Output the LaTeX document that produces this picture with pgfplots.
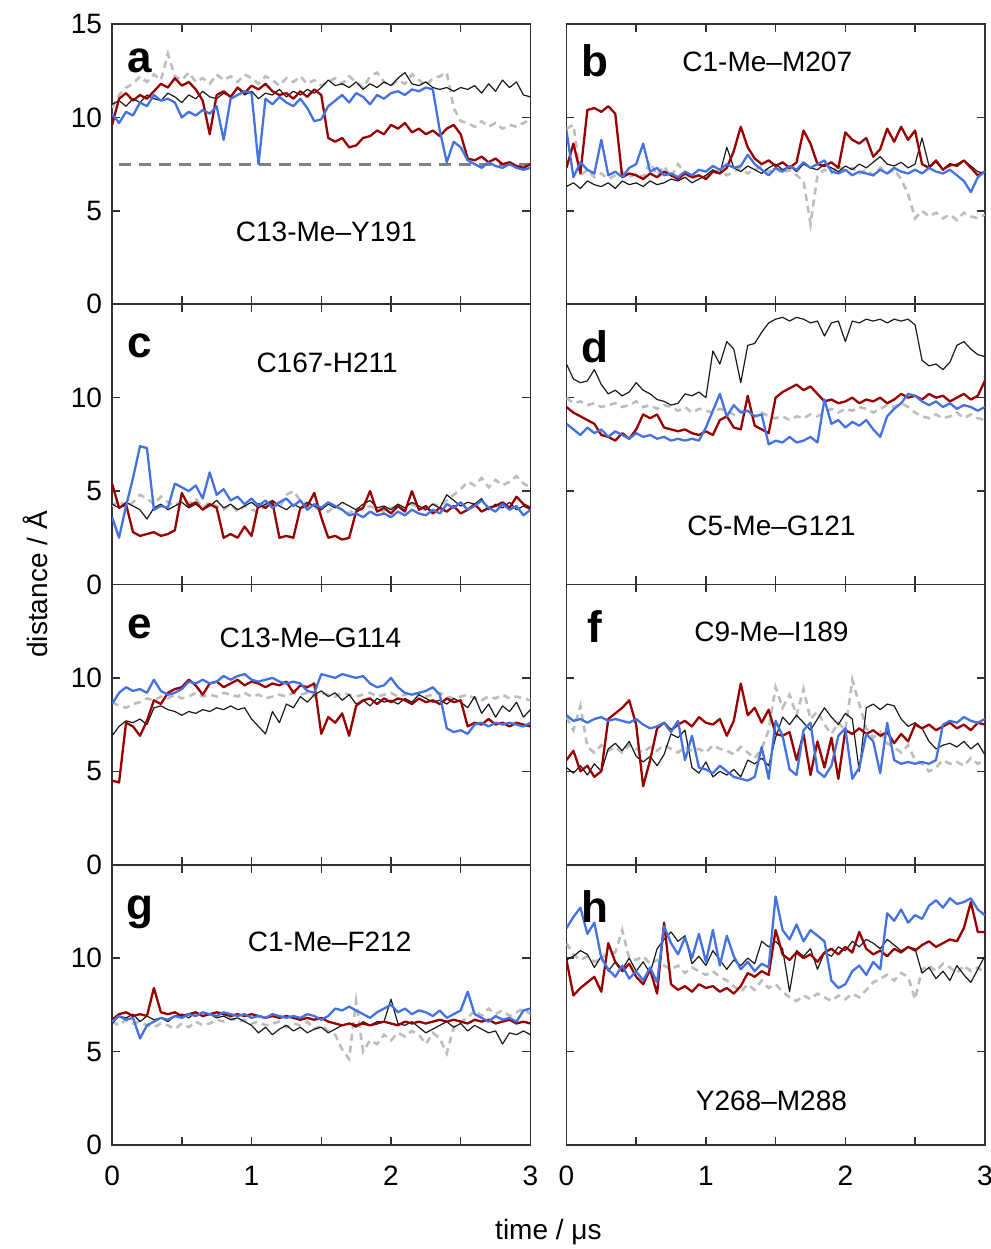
\documentclass[border=0pt]{standalone}
\usepackage{fontspec}
\setmainfont{Liberation Sans}
\usepackage{pgfplots}
\usepackage{pgfplotstable}
\pgfplotsset{compat=1.18}
\usepgfplotslibrary{groupplots}
\usetikzlibrary{calc}

\definecolor{cK}{HTML}{1A1A1A}
\definecolor{cR}{HTML}{990000}
\definecolor{cB}{HTML}{4472E0}
\definecolor{cG}{HTML}{BDBDBD}
\definecolor{cF}{HTML}{333333}

% columns: t = time (us), k = black, r = red, b = blue, g = grey dashed
\pgfplotstableread{
t k r b g
0.00 10.7 9.6 10.2 10.5
0.05 10.9 11.0 9.7 11.2
0.10 10.6 11.3 10.3 11.6
0.15 11.0 10.9 10.1 11.8
0.20 10.8 11.2 10.8 12.2
0.25 11.2 11.0 10.6 11.9
0.30 11.0 11.4 11.2 12.3
0.35 10.9 11.8 10.9 12.0
0.40 11.3 11.6 11.0 13.4
0.45 11.1 12.1 10.8 12.2
0.50 10.8 11.7 10.0 12.0
0.55 11.2 11.9 10.3 12.4
0.60 11.0 11.5 10.1 11.9
0.65 11.4 10.9 10.4 12.1
0.70 11.1 9.1 10.2 11.8
0.75 11.0 11.2 10.6 12.3
0.80 11.3 11.4 8.8 12.0
0.85 11.1 11.1 11.0 12.2
0.90 11.6 11.6 11.2 11.9
0.95 11.2 11.3 11.4 12.3
1.00 11.4 11.7 11.3 12.1
1.05 11.0 11.5 7.5 11.8
1.10 11.3 11.8 11.0 12.2
1.15 11.2 11.4 10.7 12.0
1.20 11.5 11.2 11.1 11.7
1.25 11.1 11.3 10.8 12.1
1.30 11.4 11.0 10.6 11.9
1.35 11.2 11.4 11.0 12.2
1.40 11.5 11.1 10.5 11.8
1.45 11.3 11.5 9.8 12.0
1.50 11.6 11.2 9.9 11.7
1.55 12.0 8.9 10.6 11.9
1.60 11.7 8.7 10.9 12.1
1.65 11.8 8.9 11.2 11.8
1.70 11.6 8.4 10.8 12.2
1.75 11.9 8.5 11.3 11.9
1.80 11.5 8.9 11.1 11.6
1.85 11.8 9.0 10.7 12.2
1.90 11.6 9.3 11.2 12.4
1.95 11.9 9.1 11.0 11.9
2.00 11.7 9.6 11.3 11.7
2.05 12.1 9.4 11.4 12.0
2.10 12.4 9.7 11.2 11.8
2.15 11.8 9.2 11.5 12.3
2.20 11.7 9.4 11.4 12.0
2.25 11.9 9.1 11.6 11.7
2.30 11.6 9.3 11.5 12.1
2.35 11.5 9.0 9.3 12.2
2.40 11.6 9.4 7.6 12.4
2.45 11.4 9.6 8.7 10.5
2.50 11.6 9.1 8.4 9.8
2.55 11.5 7.8 7.7 9.7
2.60 11.7 7.7 7.5 9.5
2.65 11.3 7.9 7.3 9.8
2.70 11.8 7.6 7.6 9.5
2.75 11.4 7.8 7.4 9.7
2.80 12.0 7.5 7.3 9.4
2.85 11.6 7.6 7.5 9.6
2.90 11.9 7.4 7.3 9.5
2.95 11.2 7.3 7.2 9.7
3.00 11.1 7.5 7.3 9.9
}\tabA

\pgfplotstableread{
t k r b g
0.00 6.3 7.3 9.3 9.4
0.05 6.5 8.6 6.8 9.6
0.10 6.2 7.0 7.6 6.9
0.15 6.6 10.4 7.2 7.2
0.20 6.4 10.5 7.0 6.8
0.25 6.3 10.3 8.8 7.0
0.30 6.5 10.6 6.9 6.7
0.35 6.2 10.2 7.1 6.9
0.40 6.6 6.8 6.8 7.1
0.45 6.4 7.0 7.3 6.8
0.50 6.5 6.9 7.5 7.0
0.55 6.3 6.7 8.6 6.8
0.60 6.6 7.0 7.1 7.6
0.65 6.4 6.8 7.3 6.9
0.70 6.5 7.1 6.9 7.4
0.75 6.7 6.9 7.0 6.8
0.80 6.6 6.7 6.8 7.5
0.85 6.8 7.0 7.1 7.0
0.90 6.5 6.8 6.9 6.7
0.95 6.7 6.9 7.2 6.9
1.00 6.9 6.7 7.1 6.8
1.05 7.2 7.1 7.4 7.0
1.10 7.0 7.0 7.2 7.2
1.15 8.4 7.3 7.5 6.9
1.20 7.3 8.2 7.3 7.1
1.25 7.1 9.5 7.4 7.3
1.30 7.4 8.4 8.0 7.0
1.35 7.2 7.8 7.5 7.2
1.40 7.0 7.5 7.2 7.4
1.45 7.3 7.7 6.9 7.1
1.50 7.5 7.4 7.3 7.3
1.55 7.2 7.6 7.1 7.0
1.60 7.4 7.3 7.4 7.2
1.65 7.1 7.6 7.2 6.9
1.70 7.5 9.3 7.6 6.6
1.75 7.3 8.6 7.3 4.3
1.80 7.2 7.5 7.5 6.9
1.85 7.5 7.4 7.7 7.2
1.90 7.3 7.6 7.1 7.0
1.95 7.1 7.3 7.0 7.4
2.00 7.4 9.2 7.2 7.1
2.05 7.2 8.8 6.9 7.3
2.10 7.5 8.6 7.1 7.0
2.15 7.3 8.9 7.0 7.2
2.20 7.6 7.9 6.9 6.9
2.25 7.9 8.3 7.2 7.3
2.30 7.5 9.4 7.0 7.0
2.35 7.4 8.7 7.3 7.2
2.40 7.6 9.5 7.1 6.7
2.45 7.3 8.8 7.0 5.9
2.50 7.5 9.3 7.2 4.6
2.55 8.9 7.5 7.0 5.0
2.60 7.4 7.3 7.3 4.7
2.65 7.6 7.7 7.1 4.9
2.70 7.2 7.2 7.0 4.6
2.75 7.4 7.5 7.2 4.8
2.80 7.5 7.4 6.9 4.5
2.85 7.7 7.7 6.6 4.9
2.90 7.4 7.3 6.0 4.7
2.95 7.1 6.9 6.8 4.6
3.00 7.0 7.1 7.1 4.8
}\tabB

\pgfplotstableread{
t k r b g
0.00 4.3 5.4 3.6 4.2
0.05 4.1 4.1 2.5 4.5
0.10 4.4 4.3 4.2 4.1
0.15 4.2 2.8 5.7 4.4
0.20 4.0 2.6 7.4 4.8
0.25 3.5 2.7 7.3 4.6
0.30 4.1 2.8 4.0 4.3
0.35 4.3 2.6 4.2 4.7
0.40 4.0 2.7 4.1 4.4
0.45 4.2 2.9 5.4 4.2
0.50 4.4 4.9 5.2 4.5
0.55 4.1 4.2 5.0 4.3
0.60 4.3 4.4 5.3 4.6
0.65 4.0 4.0 4.6 4.1
0.70 4.2 4.3 6.0 4.4
0.75 4.5 4.1 4.8 4.2
0.80 4.1 2.5 5.1 4.0
0.85 4.3 2.7 4.5 4.3
0.90 4.0 2.5 4.7 3.9
0.95 4.2 3.1 4.3 4.2
1.00 4.4 2.6 4.6 4.0
1.05 4.1 4.3 4.2 3.9
1.10 4.3 4.1 4.5 4.2
1.15 4.5 4.4 4.1 4.4
1.20 4.2 2.5 4.4 4.1
1.25 4.0 2.6 4.6 4.8
1.30 4.3 2.5 4.2 5.0
1.35 4.1 4.1 4.5 4.5
1.40 4.4 4.2 4.0 4.3
1.45 4.2 4.9 4.3 4.1
1.50 4.0 3.6 4.1 4.0
1.55 4.3 2.5 4.4 3.9
1.60 4.1 2.6 4.2 4.2
1.65 4.4 2.4 4.0 4.0
1.70 4.2 2.5 3.7 3.8
1.75 4.0 3.9 3.8 4.1
1.80 4.3 4.1 3.6 4.0
1.85 4.5 5.0 3.9 4.2
1.90 4.1 3.9 3.7 4.0
1.95 4.2 4.1 3.8 3.9
2.00 4.0 3.8 3.6 4.1
2.05 4.3 4.2 3.9 4.2
2.10 4.1 3.9 3.7 4.0
2.15 4.4 5.0 4.0 4.3
2.20 4.2 4.0 3.8 4.1
2.25 4.0 4.2 3.7 4.0
2.30 4.3 3.8 4.0 4.3
2.35 4.1 4.1 3.8 4.2
2.40 4.8 3.9 4.3 4.5
2.45 4.5 4.2 4.1 4.8
2.50 4.2 3.8 4.4 5.1
2.55 4.4 4.0 4.0 5.5
2.60 4.3 4.3 4.2 5.3
2.65 4.6 3.9 4.5 5.7
2.70 4.0 4.1 4.1 5.2
2.75 4.3 4.2 3.9 5.6
2.80 4.1 4.4 4.3 5.3
2.85 4.4 4.1 4.0 5.5
2.90 4.0 4.7 4.2 5.8
2.95 4.2 4.3 3.7 5.4
3.00 4.0 4.1 4.0 5.2
}\tabC

\pgfplotstableread{
t k r b g
0.00 11.8 9.5 8.6 10.0
0.05 11.0 9.2 8.3 9.7
0.10 10.8 9.0 8.0 9.8
0.15 10.9 8.8 8.4 9.6
0.20 11.5 8.6 8.1 9.7
0.25 10.7 8.0 8.3 9.5
0.30 10.2 7.9 7.9 9.6
0.35 10.4 7.7 8.2 9.7
0.40 10.1 8.1 8.0 9.5
0.45 10.3 7.8 7.8 9.6
0.50 10.8 8.3 8.1 9.8
0.55 10.4 9.1 7.9 9.5
0.60 10.2 8.9 8.0 9.6
0.65 9.9 9.1 7.8 9.4
0.70 9.8 8.4 7.9 9.6
0.75 9.6 8.3 7.7 9.5
0.80 9.7 8.2 7.8 9.3
0.85 10.2 8.3 7.7 9.5
0.90 10.1 8.1 7.8 9.2
0.95 10.3 8.0 7.7 9.4
1.00 10.0 8.2 8.4 9.3
1.05 12.5 8.0 9.3 9.2
1.10 11.8 8.8 10.2 9.4
1.15 13.0 9.0 9.0 9.3
1.20 12.6 8.4 9.6 9.1
1.25 10.8 8.3 9.2 9.3
1.30 12.8 10.1 9.3 9.2
1.35 12.9 8.5 9.0 9.0
1.40 13.5 8.3 9.1 9.2
1.45 14.0 8.1 7.5 9.0
1.50 14.2 10.0 7.7 8.9
1.55 14.3 10.3 7.6 9.0
1.60 14.1 10.5 7.9 8.8
1.65 14.3 10.7 7.6 9.0
1.70 14.2 10.4 7.7 8.9
1.75 14.0 10.6 7.9 9.1
1.80 14.1 10.2 7.6 9.0
1.85 13.3 9.8 9.9 9.2
1.90 14.0 9.9 8.6 9.4
1.95 14.1 9.7 8.8 9.2
2.00 13.0 9.8 8.4 9.4
2.05 14.1 10.0 8.7 9.3
2.10 14.0 9.7 8.5 9.5
2.15 14.2 9.9 8.8 9.4
2.20 14.1 9.8 8.3 9.2
2.25 14.2 10.0 7.9 9.4
2.30 14.0 9.7 9.0 9.6
2.35 14.2 9.9 9.4 9.5
2.40 14.1 10.2 9.7 9.7
2.45 14.2 10.0 10.2 9.5
2.50 13.9 10.1 10.1 9.2
2.55 12.0 9.9 9.8 9.0
2.60 11.7 10.2 9.6 8.9
2.65 11.8 10.0 9.8 9.1
2.70 11.5 10.1 9.5 8.9
2.75 11.9 9.8 9.7 9.0
2.80 12.8 10.0 9.4 9.2
2.85 13.0 10.2 9.6 8.9
2.90 12.6 9.9 9.5 9.1
2.95 12.3 10.1 9.3 8.9
3.00 12.2 10.9 9.5 8.8
}\tabD

\pgfplotstableread{
t k r b g
0.00 6.9 4.5 8.6 8.7
0.05 7.4 4.4 9.2 8.5
0.10 7.7 7.6 9.5 8.4
0.15 7.6 7.4 9.3 8.6
0.20 7.8 6.9 9.4 8.7
0.25 7.5 7.7 9.2 8.9
0.30 8.4 8.8 9.9 8.8
0.35 8.5 8.6 9.3 9.0
0.40 8.3 9.2 9.1 8.9
0.45 8.2 9.4 9.2 9.1
0.50 8.0 9.5 9.4 8.9
0.55 8.2 9.9 9.8 9.0
0.60 8.1 9.6 9.7 9.2
0.65 8.3 9.1 9.9 9.0
0.70 8.2 9.7 9.7 9.1
0.75 8.4 9.8 9.8 9.0
0.80 8.3 9.5 10.1 9.2
0.85 8.5 9.7 9.9 9.1
0.90 8.3 9.9 10.1 9.0
0.95 8.4 9.6 10.2 9.2
1.00 7.8 9.8 9.9 9.0
1.05 7.4 9.7 9.8 9.1
1.10 7.0 9.5 9.9 8.9
1.15 8.2 9.7 10.0 9.0
1.20 7.6 9.6 9.8 9.1
1.25 8.6 9.8 9.7 9.0
1.30 8.4 9.2 9.8 9.2
1.35 9.0 9.6 9.7 9.1
1.40 8.7 9.5 9.3 9.2
1.45 9.1 9.7 9.2 9.0
1.50 9.3 7.0 10.2 9.2
1.55 9.0 7.9 10.1 9.1
1.60 9.2 7.6 10.0 9.0
1.65 8.8 8.1 10.2 9.2
1.70 9.1 6.9 10.1 9.1
1.75 8.6 8.5 10.0 9.0
1.80 8.8 8.8 10.1 9.1
1.85 8.5 8.9 9.7 9.2
1.90 8.9 8.6 9.5 9.0
1.95 8.7 8.9 9.6 9.1
2.00 8.8 8.7 10.0 9.2
2.05 8.6 8.9 9.5 9.0
2.10 8.9 8.8 9.2 9.1
2.15 8.7 8.6 9.1 9.2
2.20 9.1 8.9 9.2 9.1
2.25 8.9 8.7 9.3 9.0
2.30 8.7 8.8 9.5 9.1
2.35 8.8 8.6 9.1 9.2
2.40 8.6 8.9 7.3 9.0
2.45 8.9 8.7 7.1 8.9
2.50 8.7 8.8 7.2 9.0
2.55 8.4 7.4 7.0 9.1
2.60 9.0 7.6 7.5 8.9
2.65 8.1 7.5 7.6 8.8
2.70 8.6 7.8 7.4 9.0
2.75 7.9 7.5 7.6 8.9
2.80 8.5 7.6 7.5 9.1
2.85 8.2 7.4 7.6 8.9
2.90 8.7 7.6 7.5 9.0
2.95 7.9 7.5 7.4 8.9
3.00 8.3 7.4 7.6 8.8
}\tabE

\pgfplotstableread{
t k r b g
0.00 5.2 5.6 8.0 7.9
0.05 4.9 6.1 7.7 7.2
0.10 5.3 5.0 7.8 8.5
0.15 4.8 5.3 7.6 6.3
0.20 5.4 4.7 7.8 6.0
0.25 5.0 5.0 7.9 6.4
0.30 6.2 7.8 7.7 6.1
0.35 6.5 8.1 7.8 6.3
0.40 6.1 8.4 7.7 6.0
0.45 6.6 8.8 7.6 6.4
0.50 5.8 7.5 7.8 6.2
0.55 5.5 4.2 7.5 6.0
0.60 5.8 5.6 7.3 6.3
0.65 5.3 7.3 7.4 6.1
0.70 5.9 7.6 7.6 6.4
0.75 7.0 7.2 7.1 6.2
0.80 6.8 7.5 7.7 6.0
0.85 7.2 7.7 5.6 6.3
0.90 5.2 7.4 6.9 6.1
0.95 4.9 7.9 5.2 6.2
1.00 5.5 7.6 5.1 6.0
1.05 4.7 7.5 4.9 6.4
1.10 5.0 7.8 5.3 6.2
1.15 4.8 6.9 5.0 6.1
1.20 5.1 7.7 4.7 5.9
1.25 4.7 9.7 4.6 6.3
1.30 5.6 8.0 4.5 6.0
1.35 5.4 8.4 4.7 5.7
1.40 5.7 7.6 6.3 6.2
1.45 5.3 8.3 4.6 7.2
1.50 6.8 7.0 7.7 9.5
1.55 7.9 6.9 6.9 8.4
1.60 7.5 7.1 5.1 9.1
1.65 8.0 5.6 4.8 8.0
1.70 7.6 7.0 7.2 9.4
1.75 7.2 4.8 7.6 7.8
1.80 7.8 6.6 5.0 8.2
1.85 8.4 5.2 4.7 7.5
1.90 7.9 6.8 5.3 7.0
1.95 7.5 4.6 6.9 7.6
2.00 8.1 7.2 7.3 7.2
2.05 7.8 7.0 4.6 9.9
2.10 5.0 7.3 5.2 8.6
2.15 8.4 7.0 7.0 7.3
2.20 8.6 7.2 6.6 6.8
2.25 8.3 6.9 4.9 7.1
2.30 8.6 7.1 7.6 6.5
2.35 8.5 6.5 5.6 6.3
2.40 7.8 7.0 5.4 6.0
2.45 7.4 6.6 5.5 6.4
2.50 7.6 7.5 5.4 5.6
2.55 7.3 7.3 5.5 5.4
2.60 6.6 7.5 5.4 5.0
2.65 6.2 7.2 5.6 5.2
2.70 6.4 7.4 7.5 5.6
2.75 6.5 7.6 7.7 5.4
2.80 6.3 7.3 7.6 5.5
2.85 6.6 7.5 7.9 5.3
2.90 6.2 7.2 7.7 5.7
2.95 6.5 7.6 7.6 5.4
3.00 5.9 7.5 7.8 5.6
}\tabF

\pgfplotstableread{
t k r b g
0.00 6.5 6.7 6.6 6.6
0.05 6.9 7.0 6.9 6.4
0.10 6.8 7.1 6.7 6.7
0.15 7.0 6.9 6.8 6.5
0.20 6.6 7.0 5.7 6.6
0.25 6.9 6.9 6.4 6.4
0.30 6.7 8.4 6.6 6.3
0.35 6.8 7.1 6.8 6.5
0.40 6.6 7.0 6.7 6.4
0.45 6.9 7.1 6.9 6.2
0.50 7.0 6.9 6.8 6.5
0.55 6.8 7.0 7.0 6.3
0.60 7.1 7.1 6.9 6.6
0.65 6.9 6.9 7.1 6.4
0.70 7.0 7.0 7.0 6.5
0.75 6.8 7.1 6.9 6.7
0.80 6.9 7.0 7.1 6.6
0.85 6.7 6.9 7.0 6.8
0.90 6.8 7.0 6.9 6.6
0.95 6.6 6.9 7.0 6.7
1.00 6.4 7.0 6.8 6.5
1.05 6.0 6.9 6.9 6.6
1.10 6.3 6.8 6.8 6.4
1.15 5.9 6.9 7.0 6.5
1.20 6.2 6.8 6.9 6.6
1.25 6.4 6.9 6.8 6.3
1.30 6.1 6.8 6.9 6.5
1.35 6.3 6.7 6.8 6.4
1.40 6.0 6.8 7.0 6.6
1.45 6.2 6.7 6.9 6.2
1.50 6.3 6.8 6.7 6.4
1.55 6.0 6.6 6.9 6.1
1.60 6.2 6.5 7.3 5.9
1.65 6.4 6.4 7.2 5.1
1.70 6.5 6.5 7.4 4.6
1.75 6.3 6.4 7.2 7.7
1.80 6.6 6.5 7.0 5.0
1.85 6.4 6.4 6.8 5.6
1.90 6.6 6.5 7.1 5.4
1.95 6.6 6.6 7.3 5.9
2.00 7.8 6.5 7.5 5.6
2.05 6.5 6.4 7.1 6.0
2.10 6.4 6.6 7.3 5.8
2.15 6.6 6.5 7.0 6.1
2.20 6.3 6.6 7.2 5.9
2.25 6.0 6.5 7.1 5.4
2.30 6.2 6.6 6.9 6.0
2.35 6.4 6.7 7.2 5.7
2.40 6.6 6.6 6.8 4.9
2.45 6.3 6.7 7.0 6.3
2.50 6.5 6.6 7.2 6.6
2.55 6.1 6.5 8.2 6.8
2.60 6.4 6.7 7.0 7.2
2.65 6.2 6.6 6.8 6.9
2.70 6.0 6.7 6.6 7.3
2.75 6.1 6.5 6.9 7.0
2.80 5.4 6.6 6.7 7.2
2.85 6.0 6.7 6.8 6.9
2.90 5.9 6.5 6.6 7.1
2.95 6.1 6.6 7.2 7.3
3.00 5.9 6.5 7.3 7.0
}\tabG

\pgfplotstableread{
t k r b g
0.00 9.9 9.9 11.6 10.8
0.05 10.1 8.0 12.2 10.2
0.10 10.4 8.4 12.7 9.9
0.15 10.2 8.7 11.3 10.1
0.20 9.5 9.0 11.9 9.8
0.25 10.1 8.2 10.0 10.0
0.30 9.3 10.8 9.4 10.3
0.35 9.8 9.8 9.0 10.3
0.40 9.4 9.3 9.6 11.5
0.45 10.0 9.7 8.9 10.0
0.50 9.3 9.0 9.3 9.9
0.55 9.8 8.6 8.8 10.1
0.60 9.2 9.4 9.5 9.7
0.65 10.5 8.1 8.7 9.9
0.70 11.0 11.9 11.7 9.6
0.75 11.4 8.6 10.8 9.4
0.80 10.9 8.3 10.2 9.6
0.85 11.2 8.5 11.1 9.2
0.90 9.7 8.2 10.0 9.5
0.95 10.1 8.6 11.3 9.3
1.00 9.6 8.4 9.8 9.1
1.05 10.4 8.5 11.5 9.3
1.10 9.9 8.2 9.6 9.0
1.15 9.4 8.4 11.2 8.8
1.20 9.9 8.1 10.1 8.5
1.25 9.6 8.5 9.4 8.2
1.30 10.0 9.2 9.8 8.6
1.35 9.7 9.0 9.3 8.3
1.40 10.9 9.3 9.7 8.8
1.45 10.6 9.1 9.5 8.4
1.50 10.9 11.5 13.3 8.6
1.55 10.5 10.2 11.5 8.2
1.60 8.2 9.9 11.0 7.9
1.65 10.4 10.3 11.8 7.7
1.70 10.1 10.0 10.9 8.0
1.75 10.5 10.2 11.5 7.8
1.80 9.4 9.8 11.2 8.1
1.85 10.3 10.3 10.9 7.9
1.90 10.1 10.5 8.8 7.7
1.95 10.6 10.2 8.4 8.0
2.00 10.4 10.6 8.6 7.8
2.05 10.9 10.3 9.3 8.1
2.10 10.6 11.4 9.6 7.9
2.15 11.0 10.5 9.1 8.3
2.20 10.8 10.2 9.8 8.7
2.25 10.5 10.4 9.4 8.9
2.30 11.0 10.1 12.4 9.1
2.35 10.7 10.5 12.0 8.8
2.40 10.4 10.3 12.6 9.2
2.45 10.6 10.6 11.9 9.0
2.50 10.5 10.4 12.3 7.8
2.55 9.2 10.7 12.1 9.4
2.60 9.5 10.9 12.8 9.6
2.65 8.9 10.6 13.1 9.3
2.70 9.3 10.8 12.7 9.7
2.75 8.8 11.0 13.2 9.5
2.80 9.6 10.9 12.9 9.2
2.85 9.1 11.6 13.0 9.6
2.90 8.7 13.0 13.2 9.3
2.95 9.4 11.4 12.6 9.5
3.00 10.1 11.4 12.3 9.2
}\tabH

\newcommand{\fourlines}[1]{%
  \addplot[cG, line width=1.3pt, dash pattern=on 3.5pt off 2.5pt] table[x=t,y=g]{#1};
  \addplot[cK, line width=0.6pt, line join=round] table[x=t,y=k]{#1};
  \addplot[cR, line width=1.15pt, line join=round] table[x=t,y=r]{#1};
  \addplot[cB, line width=1.15pt, line join=round] table[x=t,y=b]{#1};
}
\newcommand{\panelletter}[2]{%
  \node[font=\fontsize{22}{22}\selectfont\bfseries] at (rel axis cs:0.067,#2) {#1};
}
\newcommand{\site}[3]{%
  \node[font=\fontsize{14}{14}\selectfont] at (rel axis cs:#2,#3) {#1};
}

\begin{document}
\begin{tikzpicture}
\begin{groupplot}[
  group style={group name=G, group size=2 by 4, horizontal sep=18pt, vertical sep=0pt},
  scale only axis, width=209pt, height=140pt,
  xmin=0, xmax=3, ymin=0, ymax=15,
  xtick={0,0.5,1,1.5,2,2.5,3}, xticklabels={},
  ytick={0,5,10,15}, yticklabels={},
  tick align=inside, xtick pos=both, ytick pos=both,
  major tick length=4pt,
  axis line style={cF, line width=0.9pt},
  tick style={cF, line width=0.7pt},
  ticklabel style={font=\fontsize{14}{14}\selectfont},
  xticklabel style={yshift=-7pt},
  yticklabel style={xshift=-1.5pt},
  /pgf/number format/assume math mode=true,
]
\nextgroupplot[yticklabels={0,5,10,15}]
\addplot[gray, line width=1.5pt, dash pattern=on 6pt off 4pt] coordinates {(0.05,7.5) (3,7.5)};
\fourlines{\tabA}
\panelletter{a}{0.87}
\site{C13-Me–Y191}{0.512}{0.26}

\nextgroupplot
\fourlines{\tabB}
\panelletter{b}{0.87}
\site{C1-Me–M207}{0.48}{0.864}

\nextgroupplot[yticklabels={0,5,10,}]
\fourlines{\tabC}
\panelletter{c}{0.85}
\site{C167-H211}{0.514}{0.79}

\nextgroupplot
\fourlines{\tabD}
\panelletter{d}{0.85}
\site{C5-Me–G121}{0.49}{0.21}

\nextgroupplot[yticklabels={0,5,10,}]
\fourlines{\tabE}
\panelletter{e}{0.85}
\site{C13-Me–G114}{0.474}{0.81}

\nextgroupplot
\fourlines{\tabF}
\panelletter{f}{0.85}
\site{C9-Me–I189}{0.49}{0.83}

\nextgroupplot[yticklabels={0,5,10,}, xticklabels={0,,1,,2,,3}]
\fourlines{\tabG}
\panelletter{g}{0.83}
\site{C1-Me–F212}{0.52}{0.725}

\nextgroupplot[xticklabels={0,,1,,2,,3}]
\fourlines{\tabH}
\panelletter{h}{0.85}
\site{Y268–M288}{0.49}{0.157}
\end{groupplot}

\node[rotate=90, font=\fontsize{14}{14}\selectfont] at ($(G c1r1.north west)!0.5!(G c1r4.south west)+(-38.5pt,0)$) {distance / Å};
\node[font=\fontsize{14}{14}\selectfont] at ($(G c1r4.south west)!0.5!(G c2r4.south east)+(0,-43.5pt)$) {time / μs};

\pgfresetboundingbox
\path[use as bounding box] ($(G c1r4.south west)+(-56pt,-52pt)$) rectangle ($(G c2r1.north east)+(3pt,12pt)$);
\end{tikzpicture}
\end{document}
